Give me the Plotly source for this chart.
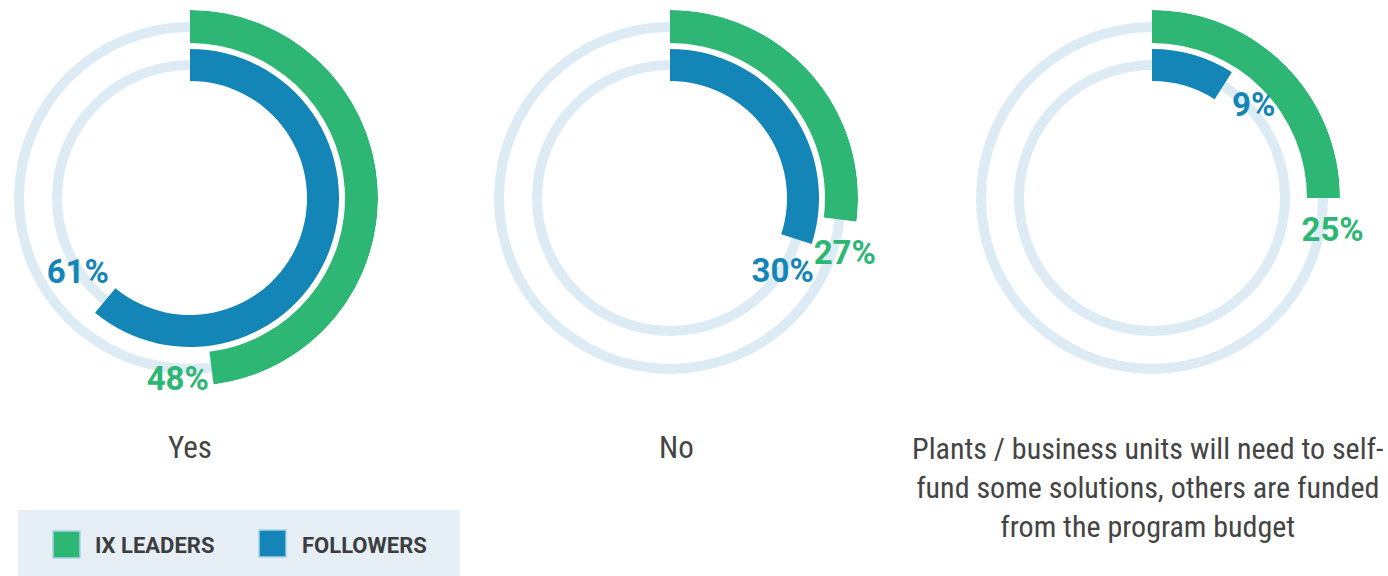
import plotly.graph_objects as go

# data
categories = ['Yes', 'No', 'Plants / business units will need to self-<br>fund some solutions, others are funded<br>from the program budget']
leaders = [48, 27, 25]
followers = [61, 30, 9]
series_names = ['IX LEADERS', 'FOLLOWERS']

GREEN = '#2db674'
BLUE = '#1385b6'
TRACK = '#dcebf4'
TEXT = '#444444'
NARROW = 'Roboto Condensed, Liberation Sans Narrow, sans-serif'
BOLD = 'Roboto, Arial, sans-serif'

W, H = 1388, 576


def px(x):
    return x / W


def py(y):
    return 1 - y / H


centers_x = [190, 670, 1152]
label_x = [190, 676, 1148]
center_y = 198
R = 188  # outer radius in px

fig = go.Figure()

for i, (cat, g, b) in enumerate(zip(categories, leaders, followers)):
    pid = '' if i == 0 else str(i + 1)
    sub = 'polar' + pid
    # background tracks
    fig.add_trace(go.Barpolar(r=[10, 10], base=[166, 128], theta=[180, 180], width=[360, 360],
                              marker=dict(color=TRACK, line=dict(width=0)),
                              subplot=sub, showlegend=False, hoverinfo='skip'))
    # leaders (outer) and followers (inner)
    fig.add_trace(go.Barpolar(r=[33], base=[155], theta=[g * 3.6 / 2], width=[g * 3.6],
                              marker=dict(color=GREEN, line=dict(width=0)),
                              name=series_names[0], subplot=sub, showlegend=False))
    fig.add_trace(go.Barpolar(r=[32], base=[117], theta=[b * 3.6 / 2], width=[b * 3.6],
                              marker=dict(color=BLUE, line=dict(width=0)),
                              name=series_names[1], subplot=sub, showlegend=False))
    # value labels just past the end of each arc
    fig.add_trace(go.Scatterpolar(r=[184], theta=[g * 3.6 + 11], mode='text', text=[f'{g}%'],
                                  textfont=dict(family=BOLD, size=33, color=GREEN, weight='bold'),
                                  subplot=sub, showlegend=False, hoverinfo='skip'))
    fig.add_trace(go.Scatterpolar(r=[136], theta=[b * 3.6 + 16], mode='text', text=[f'{b}%'],
                                  textfont=dict(family=BOLD, size=33, color=BLUE, weight='bold'),
                                  subplot=sub, showlegend=False, hoverinfo='skip'))

    cx = centers_x[i]
    fig.update_layout(**{sub: dict(
        domain=dict(x=[px(cx - R), px(cx + R)], y=[py(center_y + R), py(center_y - R)]),
        bgcolor='white',
        radialaxis=dict(visible=False, range=[0, R], showgrid=False),
        angularaxis=dict(visible=False, rotation=90, direction='clockwise', showgrid=False),
    )})

    if i == 2:
        fig.add_annotation(x=px(label_x[i]), y=py(429), xref='paper', yref='paper', text=cat,
                           showarrow=False, xanchor='center', yanchor='top',
                           font=dict(family=NARROW, size=30, color=TEXT), align='center')
    else:
        fig.add_annotation(x=px(label_x[i]), y=py(447), xref='paper', yref='paper', text=cat,
                           showarrow=False, xanchor='center', yanchor='middle',
                           font=dict(family=NARROW, size=31, color=TEXT), align='center')

# legend box
shapes = [
    dict(type='rect', xref='paper', yref='paper', x0=px(18), x1=px(460), y0=0, y1=py(510),
         fillcolor='#e6eef6', line=dict(width=0), layer='below'),
    dict(type='rect', xref='paper', yref='paper', x0=px(53), x1=px(80), y0=py(558), y1=py(531),
         fillcolor=GREEN, line=dict(color='#a8d4e8', width=1.5)),
    dict(type='rect', xref='paper', yref='paper', x0=px(259), x1=px(286), y0=py(557), y1=py(530),
         fillcolor=BLUE, line=dict(color='#a8d4e8', width=1.5)),
]
for xpx, name in zip([93, 300], series_names):
    fig.add_annotation(x=px(xpx), y=py(545), xref='paper', yref='paper', text=f'<b>{name}</b>',
                       showarrow=False, xanchor='left', yanchor='middle',
                       font=dict(family=BOLD, size=22, color='#3d3d3f'))

fig.update_layout(width=W, height=H, margin=dict(l=0, r=0, t=0, b=0),
                  paper_bgcolor='white', plot_bgcolor='white', shapes=shapes, showlegend=False)

# drop the default page margin so the figure fills the window exactly
fig.write_html('out.html', config={'displayModeBar': False},
               post_script="document.body.style.margin='0';")
